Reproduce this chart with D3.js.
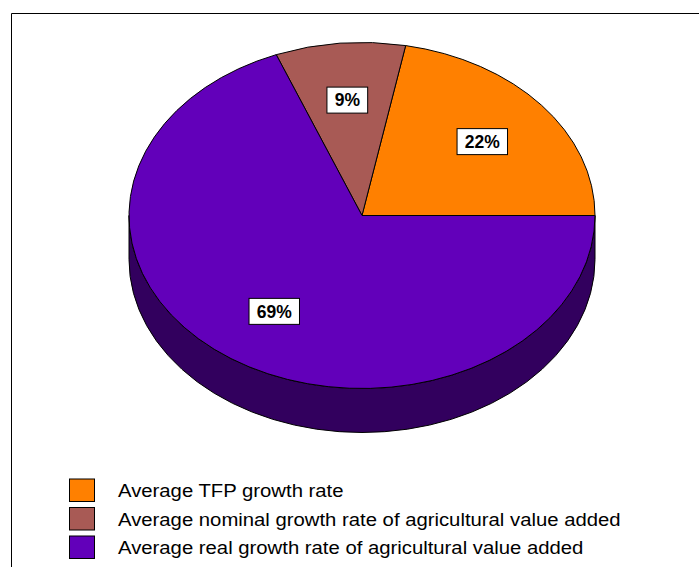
<!DOCTYPE html>
<html>
<head>
<meta charset="utf-8">
<script src="https://cdn.jsdelivr.net/npm/d3@7"></script>
<style>
  html, body { margin: 0; padding: 0; background: #fff; }
  svg { display: block; }
</style>
</head>
<body>
<svg id="chart" width="699" height="567"></svg>
<script>
// ---- data ----
const categories = [
  "Average TFP growth rate",
  "Average nominal growth rate of agricultural value added",
  "Average real growth rate of agricultural value added"
];
const values = [22, 9, 69];
const labels = ["22%", "9%", "69%"];
const colors = ["#FF8000", "#A85A55", "#6200BA"];

// ---- layout ----
const W = 699, H = 567;
const cx = 362, cy = 215.5, rx = 233, ry = 173, depth = 44;
const svg = d3.select("#chart");

// frame (top and left rules)
svg.append("path")
  .attr("d", `M11.5,${H} V13.5 H${W}`)
  .attr("fill", "none").attr("stroke", "#000").attr("stroke-width", 1);

// pie angles: start at 3 o'clock, go counter-clockwise
const pie = d3.pie().sort(null).value(d => d)
  .startAngle(Math.PI / 2).endAngle(Math.PI / 2 - 2 * Math.PI);
const arcs = pie(values);

const pt = (a, dy = 0) => [cx + rx * Math.sin(a), cy - ry * Math.cos(a) + dy];

// ---- side walls (front half only: a in [-3π/2, -π/2]) ----
const frontHi = -Math.PI / 2, frontLo = -3 * Math.PI / 2;
const sideG = svg.append("g");
arcs.forEach((d, i) => {
  const hi = Math.min(d.startAngle, frontHi);
  const lo = Math.max(d.endAngle, frontLo);
  if (hi <= lo) return;
  const [x0, y0] = pt(hi), [x1, y1] = pt(lo);
  const [x2, y2] = pt(lo, depth), [x3, y3] = pt(hi, depth);
  const p = `M${x0},${y0} A${rx},${ry} 0 0 0 ${x1},${y1} L${x2},${y2} A${rx},${ry} 0 0 1 ${x3},${y3} Z`;
  sideG.append("path")
    .attr("d", p)
    .attr("fill", d3.color(colors[i]).darker(1.9))
    .attr("stroke", "#000").attr("stroke-width", 1);
});

// ---- top slices ----
const topG = svg.append("g");
arcs.forEach((d, i) => {
  const [x0, y0] = pt(d.startAngle), [x1, y1] = pt(d.endAngle);
  const large = Math.abs(d.startAngle - d.endAngle) > Math.PI ? 1 : 0;
  const p = `M${cx},${cy} L${x0},${y0} A${rx},${ry} 0 ${large} 0 ${x1},${y1} Z`;
  topG.append("path")
    .attr("d", p)
    .attr("fill", colors[i])
    .attr("stroke", "#000").attr("stroke-width", 1)
    .attr("stroke-linejoin", "round");
});

// ---- value labels ----
const labG = svg.append("g");
arcs.forEach((d, i) => {
  const mid = (d.startAngle + d.endAngle) / 2;
  const r = 0.67;
  const x = cx + rx * r * Math.sin(mid), y = cy - ry * r * Math.cos(mid);
  const g = labG.append("g").attr("transform", `translate(${x},${y})`);
  const rect = g.append("rect");
  const t = g.append("text")
    .attr("text-anchor", "middle").attr("dy", "0.36em")
    .attr("font-family", "Liberation Sans, Arial, sans-serif")
    .attr("font-weight", "bold").attr("font-size", 17.5)
    .attr("fill", "#000")
    .text(labels[i]);
  const bb = t.node().getBBox();
  const pw = 7.5, h = 26;
  rect.attr("x", -bb.width / 2 - pw).attr("y", -h / 2)
    .attr("width", bb.width + 2 * pw).attr("height", h)
    .attr("fill", "#fff").attr("stroke", "#000").attr("stroke-width", 1);
});

// ---- legend ----
const legY = d3.scaleLinear().domain([0, 1]).range([479, 507.5]);
const leg = svg.append("g");
categories.forEach((c, i) => {
  const y = legY(i);
  leg.append("rect")
    .attr("x", 69.5).attr("y", y)
    .attr("width", 25).attr("height", 22.5)
    .attr("fill", colors[i]).attr("stroke", "#000").attr("stroke-width", 1);
  leg.append("text")
    .attr("transform", `translate(118,${y + 18}) scale(1.16,1)`)
    .attr("font-family", "Liberation Sans, Arial, sans-serif")
    .attr("font-size", 17.5).attr("fill", "#000")
    .text(c);
});
</script>
</body>
</html>
